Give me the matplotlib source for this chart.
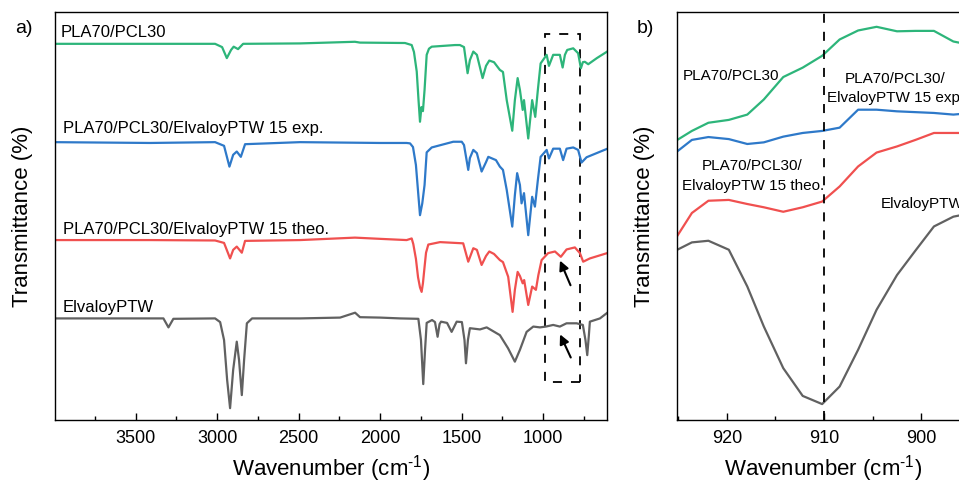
import numpy as np
import matplotlib.pyplot as plt
from matplotlib.patches import Rectangle
from matplotlib.ticker import MultipleLocator

plt.rcParams['font.family'] = ['Liberation Sans', 'DejaVu Sans']
plt.rcParams['mathtext.fontset'] = 'custom'
plt.rcParams['mathtext.rm'] = 'Liberation Sans'

# ---- panel a: full FTIR spectra (stacked, arbitrary transmittance units)
pcl_wn = [4000, 3411, 3013, 2970, 2941, 2915, 2899, 2872, 2841, 2492, 2155, 2124, 1848, 1807, 1793,
          1776, 1765, 1756, 1747, 1738, 1728, 1715, 1701, 1684, 1541, 1511, 1486, 1464, 1450, 1429,
          1407, 1372, 1351, 1331, 1302, 1266, 1247, 1224, 1190, 1174, 1157, 1143, 1126, 1118, 1092,
          1068, 1049, 1033, 1016, 979, 965, 939, 898, 881, 867, 853, 816, 786, 769, 757, 745, 724, 671, 600]
pcl_t = [92.2, 92.2, 92.2, 91.4, 88.7, 90.7, 91.5, 90.9, 92.2, 92.3, 92.7, 92.5, 92.4, 91.9, 90.2,
         85.4, 78.4, 73.1, 76.7, 75.7, 80.9, 89.5, 91.0, 91.5, 91.9, 91.9, 91.4, 85.0, 88.2, 90.3,
         89.5, 83.8, 86.8, 88.1, 87.7, 85.8, 85.3, 78.4, 70.9, 78.4, 83.8, 80.9, 76.0, 78.4, 69.0,
         78.4, 74.3, 80.9, 87.4, 89.5, 86.8, 89.5, 89.5, 86.4, 89.5, 90.7, 91.1, 89.9, 86.2, 87.7, 87.8, 87.2, 88.7, 90.5]

exp_wn = [4000, 3411, 3013, 2958, 2925, 2902, 2880, 2855, 2829, 2492, 2001, 1838, 1817, 1799, 1781,
          1766, 1756, 1742, 1728, 1715, 1684, 1552, 1500, 1486, 1460, 1450, 1429, 1407, 1378, 1351,
          1337, 1290, 1266, 1247, 1224, 1190, 1174, 1160, 1143, 1133, 1118, 1092, 1068, 1051, 1033,
          1016, 979, 965, 939, 898, 878, 857, 816, 786, 765, 734, 600]
exp_t = [68.1, 67.9, 68.1, 67.2, 62.1, 65.0, 65.8, 64.5, 67.6, 68.1, 67.9, 67.9, 67.8, 66.9, 62.5,
         55.1, 50.2, 53.1, 57.6, 65.6, 66.8, 68.2, 68.2, 67.4, 61.3, 64.2, 66.2, 65.4, 60.9, 63.2,
         64.5, 63.7, 62.1, 61.3, 56.4, 47.4, 55.1, 60.5, 57.6, 53.1, 55.6, 45.3, 54.7, 52.3, 58.8,
         64.5, 66.2, 64.1, 66.5, 66.5, 63.7, 66.5, 66.8, 66.2, 63.1, 64.4, 66.6]

theo_wn = [4000, 3411, 3013, 2958, 2921, 2902, 2880, 2849, 2829, 2492, 2155, 2001, 1838, 1807, 1797,
           1781, 1768, 1756, 1746, 1738, 1728, 1719, 1705, 1633, 1491, 1460, 1429, 1407, 1378, 1351,
           1331, 1302, 1266, 1247, 1215, 1188, 1174, 1157, 1143, 1126, 1117, 1092, 1068, 1045, 1030,
           1010, 970, 928, 892, 857, 806, 775, 755, 714, 600]
theo_t = [44.1, 44.1, 44.0, 43.4, 39.6, 41.7, 42.5, 41.0, 43.9, 44.1, 44.7, 44.4, 44.1, 44.5, 43.1,
          39.5, 35.0, 32.5, 31.4, 33.5, 37.5, 41.0, 43.0, 43.6, 43.3, 38.8, 42.1, 41.7, 38.0, 40.2,
          41.3, 40.7, 39.2, 38.7, 35.1, 26.5, 31.9, 36.3, 35.3, 33.5, 34.3, 28.2, 32.7, 31.9, 35.5,
          39.2, 40.9, 41.3, 40.0, 41.8, 42.3, 40.9, 38.8, 39.6, 41.0]

elv_wn = [4000, 3411, 3330, 3299, 3269, 3013, 2982, 2958, 2939, 2921, 2902, 2880, 2866, 2849, 2835,
          2818, 2786, 2492, 2246, 2154, 2124, 2001, 1878, 1766, 1750, 1736, 1725, 1715, 1682, 1664,
          1648, 1636, 1627, 1590, 1562, 1531, 1499, 1483, 1474, 1462, 1450, 1388, 1347, 1266, 1216,
          1174, 1143, 1102, 1061, 1020, 984, 939, 898, 857, 795, 757, 741, 730, 720, 714, 652, 600]
elv_t = [24.9, 24.9, 24.9, 22.7, 24.8, 24.9, 24.0, 19.6, 9.8, 2.9, 12.3, 19.2, 14.7, 6.1, 14.7,
         23.7, 24.9, 24.9, 25.1, 26.3, 25.2, 25.1, 24.9, 24.8, 19.6, 8.8, 17.2, 23.8, 24.5, 24.0,
         20.4, 23.5, 24.1, 23.8, 21.6, 24.1, 24.0, 19.6, 13.9, 19.6, 22.5, 22.2, 22.7, 20.8, 17.6,
         14.3, 17.2, 21.6, 22.9, 22.7, 22.9, 23.3, 22.9, 23.7, 23.7, 23.3, 19.6, 15.9, 20.8, 24.1, 24.9, 26.5]

# ---- panel b: zoom around 910 cm-1
b_wn = [925.1, 923.6, 921.9, 919.8, 917.9, 916.2, 914.2, 912.2, 910.2, 908.4, 906.5, 904.6, 902.5,
        900.6, 898.7, 896.7, 894.8]
b_pcl = [68.6, 70.8, 72.8, 73.5, 74.8, 78.5, 84.0, 86.3, 89.2, 93.2, 95.4, 96.3, 95.2, 95.3, 95.3, 92.7, 91.8]
b_exp = [65.8, 68.6, 69.3, 68.8, 67.6, 68.0, 69.4, 70.3, 70.8, 71.6, 76.0, 76.0, 75.6, 75.4, 75.2, 74.8, 75.2]
b_theo = [45.1, 50.7, 53.7, 53.9, 52.9, 52.1, 51.0, 52.1, 53.5, 57.2, 62.1, 65.5, 67.0, 68.6, 70.3, 70.3, 70.3]
b_elv = [41.7, 43.5, 43.9, 41.7, 32.7, 22.9, 12.7, 5.9, 3.9, 8.2, 17.2, 27.0, 35.5, 41.5, 47.4, 49.8, 50.7]

box_wn = (990, 775)
box_t = (9.4, 94.6)
peak_wn = 910

green = '#2db57a'
blue = '#2e79c9'
red = '#f0504f'
gray = '#616161'

fig = plt.figure(figsize=(9.59, 4.83), dpi=100)
ax1 = fig.add_axes([55 / 959, 1 - 420 / 483, 552.3 / 959, 408 / 483])
ax2 = fig.add_axes([677.3 / 959, 1 - 420 / 483, 292.6 / 959, 408.3 / 483])

lw = 1.6
ax1.plot(pcl_wn, pcl_t, color=green, lw=lw)
ax1.plot(exp_wn, exp_t, color=blue, lw=lw)
ax1.plot(theo_wn, theo_t, color=red, lw=lw)
ax1.plot(elv_wn, elv_t, color=gray, lw=lw)

ax1.add_patch(Rectangle((box_wn[1], box_t[0]), box_wn[0] - box_wn[1], box_t[1] - box_t[0],
                        fill=False, ec='black', lw=1.3, ls=(0, (5, 5))))
ax1.annotate('', xy=(904, 39.7), xytext=(826, 32.4),
             arrowprops=dict(arrowstyle='-|>', color='black', lw=1.5, mutation_scale=14))
ax1.annotate('', xy=(904, 21.6), xytext=(824, 14.7),
             arrowprops=dict(arrowstyle='-|>', color='black', lw=1.5, mutation_scale=14))

fs_lab = 12
ax1.text(3959, 93.8, 'PLA70/PCL30', fontsize=fs_lab, va='baseline')
ax1.text(3947, 70.4, 'PLA70/PCL30/ElvaloyPTW 15 exp.', fontsize=fs_lab, va='baseline')
ax1.text(3947, 45.7, 'PLA70/PCL30/ElvaloyPTW 15 theo.', fontsize=fs_lab, va='baseline')
ax1.text(3947, 26.5, 'ElvaloyPTW', fontsize=fs_lab, va='baseline')

ax1.set_xlim(3995, 607)
ax1.set_ylim(0, 100)
ax1.xaxis.set_major_locator(MultipleLocator(500))
ax1.xaxis.set_minor_locator(MultipleLocator(250))

ax2.plot(b_wn, b_pcl, color=green, lw=lw)
ax2.plot(b_wn, b_exp, color=blue, lw=lw)
ax2.plot(b_wn, b_theo, color=red, lw=lw)
ax2.plot(b_wn, b_elv, color=gray, lw=lw)
ax2.axvline(peak_wn, color='black', lw=1.3, ls=(0, (5, 5)))

fs_b = 11
ax2.text(919.6, 83.3, 'PLA70/PCL30', fontsize=fs_b, ha='center', va='baseline')
ax2.text(902.7, 82.5, 'PLA70/PCL30/', fontsize=fs_b, ha='center', va='baseline')
ax2.text(902.7, 77.8, 'ElvaloyPTW 15 exp.', fontsize=fs_b, ha='center', va='baseline')
ax2.text(917.4, 61.3, 'PLA70/PCL30/', fontsize=fs_b, ha='center', va='baseline')
ax2.text(917.3, 56.4, 'ElvaloyPTW 15 theo.', fontsize=fs_b, ha='center', va='baseline')
ax2.text(904.2, 51.9, 'ElvaloyPTW', fontsize=fs_b, va='baseline')

ax2.set_xlim(925.1, 895)
ax2.set_ylim(0, 100)
ax2.xaxis.set_major_locator(MultipleLocator(10))
ax2.xaxis.set_minor_locator(MultipleLocator(5))

for ax in (ax1, ax2):
    ax.set_yticks([])
    ax.tick_params(axis='x', which='major', direction='in', length=4.8, width=1, labelsize=13, pad=7)
    ax.tick_params(axis='x', which='minor', direction='in', length=3, width=1)
    for s in ax.spines.values():
        s.set_linewidth(1.0)
    ax.set_xlabel('Wavenumber (cm$^{\\text{-1}}$)', fontsize=16, labelpad=4.5)
    ax.set_ylabel('Transmittance (%)', fontsize=16)

ax1.yaxis.set_label_coords(-0.04, 0.5)
ax2.yaxis.set_label_coords(-0.076, 0.5)

fig.text(15 / 959, 1 - 33 / 483, 'a)', fontsize=14, va='baseline')
fig.text(636.7 / 959, 1 - 33 / 483, 'b)', fontsize=14, va='baseline')

plt.savefig('out.png', dpi=100)
